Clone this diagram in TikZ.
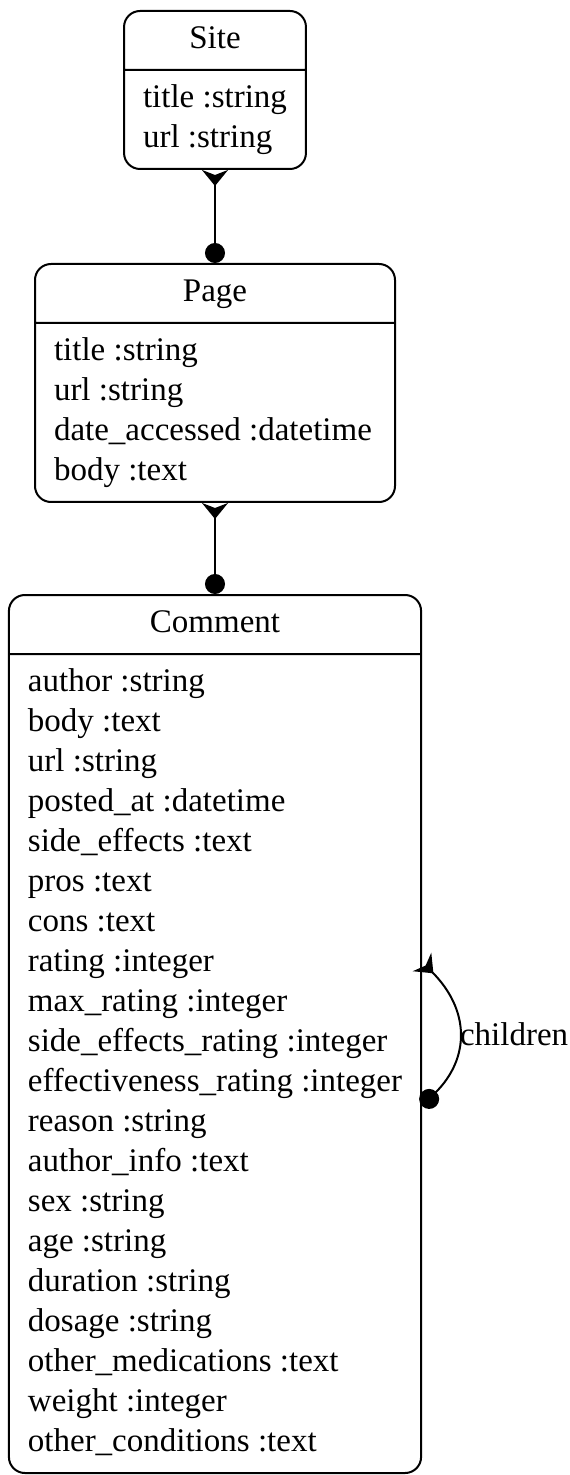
\documentclass[tikz,border=0pt]{standalone}
\usepackage{fontspec}
\setmainfont{Liberation Serif}
\usetikzlibrary{shapes.multipart, positioning, arrows.meta}

\begin{document}
\begin{tikzpicture}[x=0.5pt, y=-0.5pt, node distance=46.5pt, line width=1pt,
    entity/.style={rectangle split, rectangle split parts=2, draw, rounded corners=8pt,
      rectangle split part align={center,left}, align=left,
      inner xsep=9.5pt, inner ysep=4.25pt, font=\fontsize{16.5}{20}\selectfont},
    rel/.style={{Stealth[reversed,length=8pt,width=13pt,inset=2.5pt]}-{Circle[length=10pt]}}]
  \useasboundingbox (0,0) rectangle (569,1475);
  \node[entity, minimum width=87pt, anchor=north] (site) at (215,10) {\strut Site
    \nodepart{two}\strut title :string\\
    \strut url :string};
  \node[entity, minimum width=180pt, below=of site] (page) {\strut Page
    \nodepart{two}\strut title :string\\
    \strut url :string\\
    \strut date\_accessed :datetime\\
    \strut body :text};
  \node[entity, minimum width=201.5pt, below=45.5pt of page] (comment) {\strut Comment
    \nodepart{two}\strut author :string\\
    \strut body :text\\
    \strut url :string\\
    \strut posted\_at :datetime\\
    \strut side\_effects :text\\
    \strut pros :text\\
    \strut cons :text\\
    \strut rating :integer\\
    \strut max\_rating :integer\\
    \strut side\_effects\_rating :integer\\
    \strut effectiveness\_rating :integer\\
    \strut reason :string\\
    \strut author\_info :text\\
    \strut sex :string\\
    \strut age :string\\
    \strut duration :string\\
    \strut dosage :string\\
    \strut other\_medications :text\\
    \strut weight :integer\\
    \strut other\_conditions :text};
  \draw[rel] (site) -- (page);
  \draw[rel] (page) -- (comment);
  \draw[rel] ([yshift=36pt]comment.east) .. controls +(24pt,-24pt) and +(24pt,24pt) ..
    node[right, pos=0.5, inner sep=0.5pt, font=\fontsize{16.5}{20}\selectfont] (children) {children}
    ([yshift=-36pt]comment.east);
\end{tikzpicture}
\end{document}
